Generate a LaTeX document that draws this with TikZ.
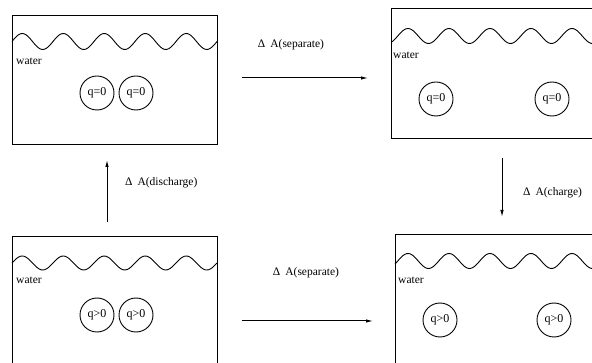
\documentclass[tikz,border=0pt]{standalone}
\usepackage{fontspec}
\setmainfont{Liberation Serif}
\usepackage{tikz}
\usetikzlibrary{arrows.meta, positioning, calc}

\begin{document}
\begin{tikzpicture}[x=1pt, y=-1pt,
    tank/.style={draw, line width=1pt, inner sep=0pt},
    ion/.style={draw, circle, line width=0.9pt, minimum size=34pt, inner sep=0pt, font=\fontsize{12}{13}\selectfont},
    lbl/.style={font=\fontsize{11.5}{13}\selectfont, inner sep=0pt},
    surf/.style={line width=0.9pt, samples=120, smooth},
    flow/.style={line width=1pt, -{Latex[length=7pt, width=3.5pt]}}]
  \useasboundingbox (0,0) rectangle (592,363);
  \clip (0,0) rectangle (592,363);

  % TOP LEFT: neutral pair, together
  \node[tank, minimum width=205pt, minimum height=129pt] (tl) at (114.5,80.5) {};
  \draw[surf, domain=12:217] plot (\x, {41.5 - 8*sin(8.7805*(\x-12))});
  \node[lbl, anchor=west] (tlw) at (16,61) {water};
  \node[ion] (tla) at (97,93) {q=0};
  \node[ion] (tlb) at (136,93) {q=0};

  % TOP RIGHT: neutral pair, apart
  \node[tank, minimum width=212pt, minimum height=130pt] (tr) at (497,74) {};
  \draw[surf, domain=391:592] plot (\x, {36 - 7.5*sin(8.7805*(\x-397.75))});
  \node[lbl, anchor=west] (trw) at (393,55) {water};
  \node[ion] (tra) at (436,99) {q=0};
  \node[ion] (trb) at (552,99) {q=0};

  % BOTTOM LEFT: charged pair, together
  \node[tank, minimum width=205pt, minimum height=132pt] (bl) at (114.5,303) {};
  \draw[surf, domain=12:217] plot (\x, {263 - 7*sin(8.7805*(\x-12))});
  \node[lbl, anchor=west] (blw) at (16,280) {water};
  \node[ion] (bla) at (97,315) {q>0};
  \node[ion] (blb) at (136,315) {q>0};

  % BOTTOM RIGHT: charged pair, apart
  \node[tank, minimum width=210pt, minimum height=132pt] (br) at (500,301) {};
  \draw[surf, domain=395:592] plot (\x, {261 - 7.5*sin(8.7805*(\x-397.75))});
  \node[lbl, anchor=west] (brw) at (398,280) {water};
  \node[ion] (bra) at (440,320) {q>0};
  \node[ion] (brb) at (554,320) {q>0};

  % Work steps
  \coordinate (sepTopA) at (242,78);
  \coordinate (sepTopB) at (368,78);
  \coordinate (sepBotA) at (242,321);
  \coordinate (sepBotB) at (373,321);
  \coordinate (disA) at (107,222);
  \coordinate (disB) at (107,160);
  \coordinate (chgA) at (502,158);
  \coordinate (chgB) at (502,217);

  \draw[flow] (sepTopA) -- (sepTopB);
  \draw[flow] (sepBotA) -- (sepBotB);
  \draw[flow] (disA) -- (disB);
  \draw[flow] (chgA) -- (chgB);

  \node[lbl] (sepTop) at (291,45) {Δ\hspace{5pt}A(separate)};
  \node[lbl] (sepBot) at (306,273) {Δ\hspace{5pt}A(separate)};
  \node[lbl, anchor=west] (dis) at (125,183) {Δ\hspace{5pt}A(discharge)};
  \node[lbl, anchor=west] (chg) at (523,193) {Δ\hspace{5pt}A(charge)};
\end{tikzpicture}
\end{document}
